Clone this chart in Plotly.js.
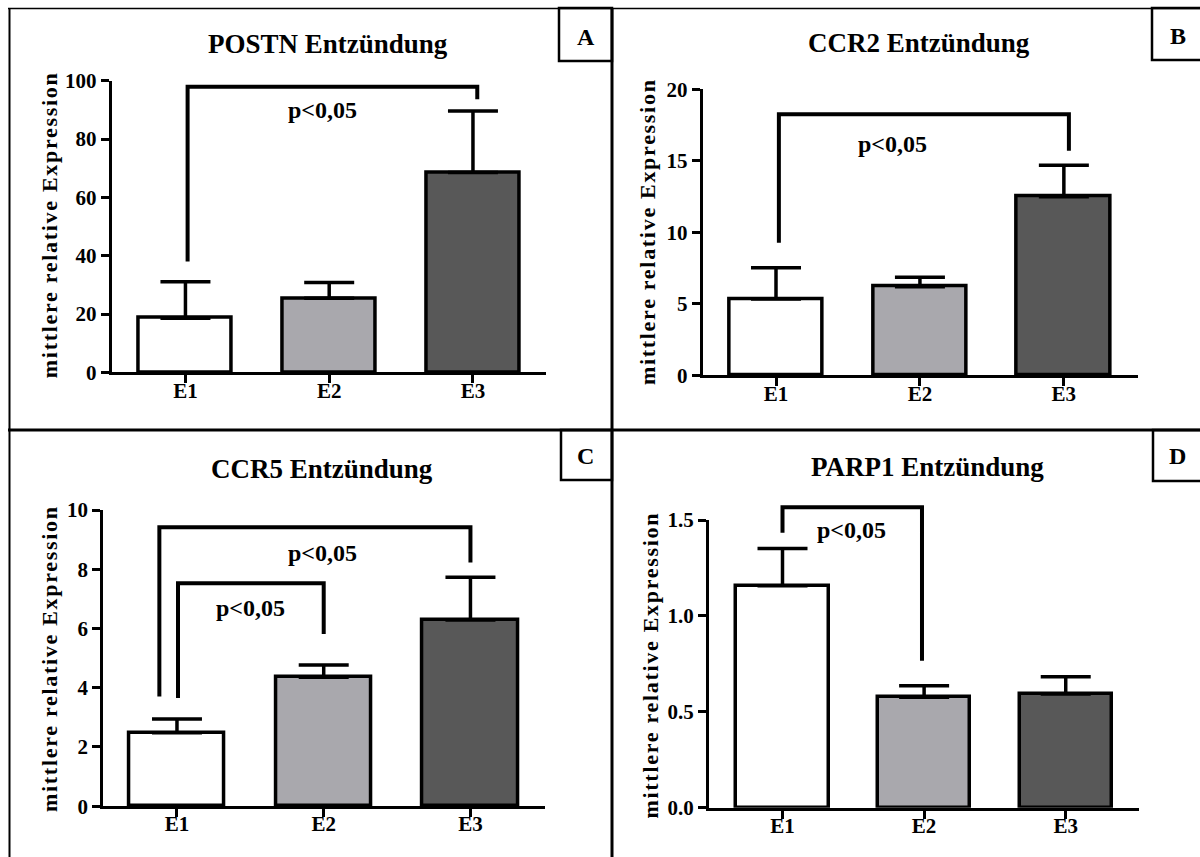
<!DOCTYPE html>
<html>
<head>
<meta charset="utf-8">
<script src="https://cdn.plot.ly/plotly-3.0.1.min.js"></script>
<style>
html,body{margin:0;padding:0;background:#fff;}
#chart{width:1200px;height:857px;}
g.annotation[data-index="0"] text,
g.annotation[data-index="1"] text,
g.annotation[data-index="2"] text,
g.annotation[data-index="3"] text { letter-spacing: 1.7px; }
</style>
</head>
<body>
<div id="chart"></div>
<script>
// ---------------- data ----------------
const categories = ['E1', 'E2', 'E3'];
const categoryPos = [0, 1, 2];

const postnTitle = 'POSTN Entzündung';
const postnMean = [18.6, 25.4, 68.5];
const postnSem  = [12.5, 5.4, 21.1];
const postnTicks = [0, 20, 40, 60, 80, 100];
const postnBrackets = [ {x: [0.015, 2.03], y: [38, 97.9, 93.6], label: 'p<0,05', lx: 0.954, ly: 90} ];

const ccr2Title = 'CCR2 Entzündung';
const ccr2Mean = [5.34, 6.2, 12.49];
const ccr2Sem  = [2.18, 0.65, 2.2];
const ccr2Ticks = [0, 5, 10, 15, 20];
const ccr2Brackets = [ {x: [0.02, 2.035], y: [9.27, 18.25, 15.7], label: 'p<0,05', lx: 0.81, ly: 16.2} ];

const ccr5Title = 'CCR5 Entzündung';
const ccr5Mean = [2.48, 4.35, 6.29];
const ccr5Sem  = [0.46, 0.42, 1.44];
const ccr5Ticks = [0, 2, 4, 6, 8, 10];
const ccr5Brackets = [
  {x: [-0.12, 2.0], y: [3.7, 9.42, 8.23], label: 'p<0,05', lx: 0.99, ly: 8.54},
  {x: [0.007, 1.0], y: [3.65, 7.53, 5.81], label: 'p<0,05', lx: 0.5, ly: 6.69}
];

const parp1Title = 'PARP1 Entzündung';
const parp1Mean = [1.157, 0.576, 0.593];
const parp1Sem  = [0.195, 0.06, 0.09];
const parp1Ticks = [0, 0.5, 1.0, 1.5];
const parp1Brackets = [ {x: [0, 0.985], y: [1.434, 1.566, 0.766], label: 'p<0,05', lx: 0.49, ly: 1.448} ];

const panelLetters = ['A', 'B', 'C', 'D'];
const yAxisTitle = 'mittlere relative Expression';
const barColors = ['#ffffff', '#a9a8ad', '#585858'];

// ---------------- layout geometry (pixels) ----------------
const W = 1200, H = 857;
const px = v => v / W;
const py = v => 1 - v / H;
const FONT = "'Liberation Serif', 'Times New Roman', Times, 'DejaVu Serif', serif";

const panels = [
  {title: postnTitle, mean: postnMean, sem: postnSem, ticks: postnTicks, fmt: 'd', brackets: postnBrackets,
   dx: [111.7, 545.7], dy: [80.7, 372.4], xr: [-0.513, 2.506], yr: [0, 100],
   tpos: [328, 44.5], ypos: [49.4, 225], letter: [585.5, 37], box: [559, 612, 8, 61]},
  {title: ccr2Title, mean: ccr2Mean, sem: ccr2Sem, ticks: ccr2Ticks, fmt: 'd', brackets: ccr2Brackets,
   dx: [702.6, 1137.7], dy: [89.3, 375.3], xr: [-0.51, 2.513], yr: [0, 20],
   tpos: [918.8, 43.3], ypos: [647.8, 231.5], letter: [1178, 36], box: [1152, 1212, 8, 60]},
  {title: ccr5Title, mean: ccr5Mean, sem: ccr5Sem, ticks: ccr5Ticks, fmt: 'd', brackets: ccr5Brackets,
   dx: [103.3, 545], dy: [510, 806.2], xr: [-0.502, 2.508], yr: [0, 10],
   tpos: [322.3, 469.3], ypos: [49.4, 658.8], letter: [585.5, 455.5], box: [561, 612, 430, 480]},
  {title: parp1Title, mean: parp1Mean, sem: parp1Sem, ticks: parp1Ticks, fmt: '.1f', brackets: parp1Brackets,
   dx: [709, 1138.8], dy: [520, 807.7], xr: [-0.519, 2.516], yr: [0, 1.5],
   tpos: [927.2, 466.7], ypos: [649.7, 665], letter: [1177, 456], box: [1153, 1212, 430, 481]}
];

const traces = [];
const annTitlesY = [];
const annOther = [];
const shapes = [];
const layout = {
  width: W, height: H,
  margin: {l: 0, r: 0, t: 0, b: 0},
  paper_bgcolor: '#ffffff',
  plot_bgcolor: 'rgba(0,0,0,0)',
  showlegend: false,
  bargap: 0
};

panels.forEach((p, i) => {
  const n = i + 1;
  const xName = n === 1 ? 'xaxis' : 'xaxis' + n;
  const yName = n === 1 ? 'yaxis' : 'yaxis' + n;
  const xRef = n === 1 ? 'x' : 'x' + n;
  const yRef = n === 1 ? 'y' : 'y' + n;

  const axisCommon = {
    showline: true, linecolor: '#000', linewidth: 3,
    ticks: 'outside', ticklen: 8, tickwidth: 3, tickcolor: '#000',
    showgrid: false, zeroline: false, fixedrange: true,
    tickfont: {family: FONT, size: 21, color: '#000', weight: 700}
  };

  layout[xName] = Object.assign({}, axisCommon, {
    domain: [px(p.dx[0]), px(p.dx[1])], range: p.xr, anchor: yRef,
    tickmode: 'array', tickvals: categoryPos, ticktext: categories,
    ticklabelstandoff: -11
  });
  layout[yName] = Object.assign({}, axisCommon, {
    domain: [py(p.dy[1]), py(p.dy[0])], range: p.yr, anchor: xRef,
    tickmode: 'array', tickvals: p.ticks, tickformat: p.fmt
  });

  traces.push({
    type: 'bar', x: categoryPos, y: p.mean, xaxis: xRef, yaxis: yRef,
    width: 0.65,
    marker: {color: barColors, line: {color: '#000', width: 3.5}},
    error_y: {type: 'data', symmetric: false, array: p.sem, arrayminus: [0, 0, 0],
              color: '#000', thickness: 3.5, width: 25},
    hoverinfo: 'skip'
  });

  // brackets: D needs an invisible overlay subplot with the same scale but taller extent
  let bx = xRef, by = yRef;
  if (n === 4) {
    const scale = (p.dy[1] - p.dy[0]) / (p.yr[1] - p.yr[0]);
    const topPx = 480;
    layout.xaxis5 = {domain: [px(p.dx[0]), px(p.dx[1])], range: p.xr, anchor: 'y5', visible: false, fixedrange: true};
    layout.yaxis5 = {domain: [py(p.dy[1]), py(topPx)], range: [0, (p.dy[1] - topPx) / scale], anchor: 'x5', visible: false, fixedrange: true};
    bx = 'x5'; by = 'y5';
  }
  p.brackets.forEach(b => {
    traces.push({
      type: 'scatter', mode: 'lines', xaxis: bx, yaxis: by,
      x: [b.x[0], b.x[0], b.x[1], b.x[1]],
      y: [b.y[0], b.y[1], b.y[1], b.y[2]],
      line: {color: '#000', width: 4},
      hoverinfo: 'skip'
    });
    annOther.push({
      xref: xRef, yref: yRef, x: b.lx, y: b.ly, text: b.label, showarrow: false,
      xanchor: 'center', yanchor: 'middle',
      font: {family: FONT, size: 24, color: '#000', weight: 700}
    });
  });

  annTitlesY.push({
    xref: 'paper', yref: 'paper', x: px(p.ypos[0]), y: py(p.ypos[1]),
    text: yAxisTitle, textangle: -90, showarrow: false,
    xanchor: 'center', yanchor: 'middle',
    font: {family: FONT, size: 22, color: '#000', weight: 700}
  });
  annOther.push({
    xref: 'paper', yref: 'paper', x: px(p.tpos[0]), y: py(p.tpos[1]),
    text: p.title, showarrow: false, xanchor: 'center', yanchor: 'middle',
    font: {family: FONT, size: 27, color: '#000', weight: 700}
  });
  annOther.push({
    xref: 'paper', yref: 'paper', x: px(p.letter[0]), y: py(p.letter[1]),
    text: panelLetters[i], showarrow: false, xanchor: 'center', yanchor: 'middle',
    font: {family: FONT, size: 24, color: '#000', weight: 700}
  });
  shapes.push({type: 'rect', xref: 'paper', yref: 'paper',
    x0: px(p.box[0]), x1: px(p.box[1]), y0: py(p.box[3]), y1: py(p.box[2]),
    line: {color: '#000', width: 2.5}, fillcolor: 'rgba(0,0,0,0)'});
});

// figure frame and dividers
const frameLines = [
  {x0: 8, x1: 1200, y0: 8.5, y1: 8.5, w: 1.5},
  {x0: 9.5, x1: 9.5, y0: 8, y1: 857, w: 2},
  {x0: 612, x1: 612, y0: 8, y1: 857, w: 3},
  {x0: 8, x1: 1200, y0: 430, y1: 430, w: 3}
];
frameLines.forEach(l => shapes.push({type: 'line', xref: 'paper', yref: 'paper',
  x0: px(l.x0), x1: px(l.x1), y0: py(l.y0), y1: py(l.y1), line: {color: '#000', width: l.w}}));

layout.annotations = annTitlesY.concat(annOther);
layout.shapes = shapes;

Plotly.newPlot('chart', traces, layout, {displayModeBar: false});
</script>
</body>
</html>
